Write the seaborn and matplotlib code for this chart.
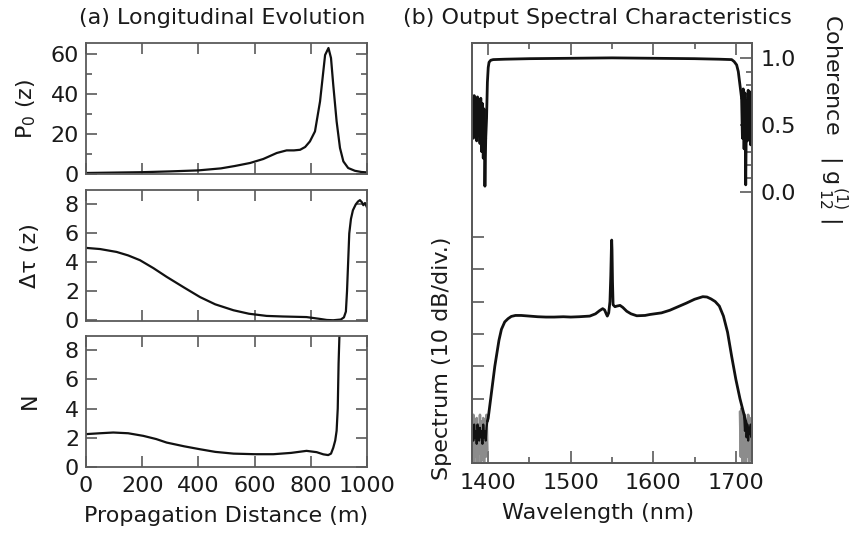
import numpy as np
import pandas as pd
import matplotlib
matplotlib.use('Agg')
import matplotlib.pyplot as plt
import seaborn as sns

# ---- (a) longitudinal evolution ----
z_p0 = [0, 100, 200, 300, 400, 480, 530, 584, 631, 679, 714, 740, 762, 780, 797,
        815, 833, 851, 863, 872, 880, 892, 904, 916, 933, 957, 980, 1000]
p0 = [0.5, 0.7, 0.9, 1.3, 1.8, 2.8, 4.0, 5.5, 7.5, 10.5, 11.8, 11.8, 12.1, 13.5, 16.3,
      21.3, 36.3, 59.5, 63.0, 58.0, 44.6, 26.3, 13.0, 6.3, 3.0, 1.6, 1.0, 0.8]

z_dt = [0, 50, 109, 150, 192, 240, 287, 350, 406, 460, 525, 580, 643, 700, 785, 830,
        857, 880, 907, 918, 925, 929, 933, 937, 943, 950, 960, 968, 975, 982, 987, 993, 1000]
dtau = [5.0, 4.92, 4.72, 4.48, 4.15, 3.6, 3.0, 2.25, 1.6, 1.1, 0.69, 0.45, 0.3, 0.26, 0.22, 0.1,
        0.02, 0.0, 0.05, 0.2, 0.6, 2.0, 4.0, 6.0, 7.0, 7.6, 8.0, 8.2, 8.3, 8.15, 7.95, 8.1, 7.8]

z_n = [0, 50, 97, 150, 204, 250, 287, 350, 406, 460, 525, 600, 667, 730, 785, 821,
       845, 862, 872, 880, 887, 892, 896, 899, 902, 905]
n_sol = [2.24, 2.3, 2.35, 2.3, 2.12, 1.9, 1.66, 1.4, 1.2, 1.02, 0.9, 0.86, 0.86, 0.95, 1.09, 1.0,
         0.85, 0.8, 0.9, 1.3, 1.8, 2.47, 4.0, 7.1, 9.0, 10.5]

# ---- (b) output spectrum (dB) ----
spec_wl = [1399, 1400, 1402, 1404, 1406, 1408, 1410, 1413, 1416, 1420, 1424, 1428, 1433, 1440,
           1450, 1460, 1470, 1480, 1491, 1500, 1510, 1523, 1530, 1535, 1538.7, 1541, 1543,
           1544.3, 1546, 1547.5, 1548.5, 1549.2, 1549.6, 1550.0, 1550.6, 1551.3, 1553.6, 1556,
           1559.7, 1563, 1567.8, 1573, 1580, 1590, 1596, 1610, 1620, 1630, 1640, 1650, 1660,
           1665, 1670, 1675, 1680, 1685, 1690, 1695, 1700, 1705, 1710, 1713]
spec_db = [-57, -56, -52, -48, -44, -40, -36.8, -32, -28.6, -26.3, -25.3, -24.6, -24.3, -24.3,
           -24.5, -24.7, -24.8, -24.8, -24.7, -24.8, -24.7, -24.5, -23.8, -22.8, -22.2, -22.6, -23.8,
           -24.5, -23.5, -20, -12, -4, -1, -4, -14, -21, -21.6, -21.4,
           -21.2, -21.8, -23, -23.8, -24.4, -24.3, -24.0, -23.5, -22.7, -21.6, -20.5, -19.3, -18.5,
           -18.6, -19.2, -20, -21.4, -24.5, -29.5, -37, -44, -50, -55, -58]

noise_wl_left = [1380, 1381, 1382, 1383, 1384, 1385, 1386, 1387, 1388, 1389,
                 1390, 1391, 1392, 1393, 1394, 1395, 1396, 1397, 1398, 1399]
gray_left_db = [-60, -69, -55, -70, -57, -68, -56, -70, -58, -67,
                -55, -70, -57, -69, -56, -70, -58, -68, -55, -66]
black_left_db = [-61, -59, -63, -58, -62, -60, -64, -58, -61, -63,
                 -59, -62, -60, -64, -58, -62, -60, -63, -59, -57]

noise_wl_right = [1705, 1706, 1707, 1708, 1709, 1710, 1711, 1712,
                  1713, 1714, 1715, 1716, 1717, 1718, 1719, 1720]
gray_right_db = [-54, -68, -53, -70, -56, -69, -55, -70,
                 -57, -68, -55, -70, -56, -69, -58, -66]
black_wl_right = [1710, 1711, 1712, 1713, 1714, 1715, 1716, 1717, 1718, 1719, 1720]
black_right_db = [-55, -60, -57, -62, -58, -63, -59, -61, -58, -62, -60]

# ---- (b) coherence |g12(1)| ----
coh_wl_left = [1380, 1381, 1382, 1383, 1384, 1385, 1386, 1387, 1388,
               1389, 1390, 1391, 1392, 1393, 1394, 1395, 1396, 1397]
coh_left = [0.58, 0.70, 0.40, 0.72, 0.45, 0.69, 0.38, 0.71, 0.44,
            0.68, 0.36, 0.70, 0.30, 0.66, 0.25, 0.62, 0.04, 0.40]
coh_wl_mid = [1397, 1398, 1399, 1400, 1401, 1403, 1406, 1420, 1450, 1500, 1550,
              1600, 1650, 1680, 1695, 1698, 1701, 1703, 1705, 1707]
coh_mid = [0.40, 0.55, 0.82, 0.93, 0.97, 0.985, 0.99, 0.993, 0.997, 1.0, 1.003,
           1.0, 0.997, 0.993, 0.99, 0.975, 0.95, 0.90, 0.80, 0.70]
coh_wl_right = [1707, 1708, 1709, 1710, 1711, 1712, 1713, 1714, 1715, 1716, 1717, 1718, 1719, 1720]
coh_right = [0.70, 0.40, 0.77, 0.32, 0.74, 0.05, 0.68, 0.38, 0.76, 0.42, 0.72, 0.35, 0.75, 0.48]

edge = '#5a5a5a'
ink = '#1a1a1a'
sns.set_theme(style='ticks', rc={
    'axes.edgecolor': edge, 'axes.linewidth': 1.3,
    'xtick.color': edge, 'ytick.color': edge,
    'xtick.labelcolor': ink, 'ytick.labelcolor': ink,
    'axes.labelcolor': ink, 'text.color': ink,
})
plt.rcParams['font.family'] = ['DejaVu Sans']
plt.rcParams['mathtext.fontset'] = 'dejavusans'
fs = 16

fig = plt.figure(figsize=(8.6, 5.41), dpi=100)

ax1 = fig.add_axes([0.1, 0.6784, 0.3267, 0.2421])
ax2 = fig.add_axes([0.1, 0.4067, 0.3267, 0.2421])
ax3 = fig.add_axes([0.1, 0.1373, 0.3267, 0.2421])

sns.lineplot(x=z_p0, y=p0, ax=ax1, color='#111111', lw=1.6, estimator=None, sort=False)
sns.lineplot(x=z_dt, y=dtau, ax=ax2, color='#111111', lw=1.6, estimator=None, sort=False)
sns.lineplot(x=z_n, y=n_sol, ax=ax3, color='#111111', lw=1.6, estimator=None, sort=False)

ax1.set_ylim(0, 65.5)
ax1.set_yticks([0, 20, 40, 60])
ax1.set_yticks([10, 30, 50], minor=True)
ax2.set_ylim(-0.05, 9)
ax2.set_yticks([0, 2, 4, 6, 8])
ax3.set_ylim(0, 9)
ax3.set_yticks([0, 2, 4, 6, 8])

for ax in (ax1, ax2, ax3):
    ax.set_xlim(0, 1000)
    ax.set_xticks(range(0, 1001, 200))
    ax.tick_params(which='both', direction='in', top=True, right=True,
                   width=1.2, labelsize=fs, pad=5)
    ax.tick_params(which='major', length=8)
    ax.tick_params(which='minor', length=4)
    ax.set_xlabel('')
for ax in (ax1, ax2):
    ax.set_xticklabels([])

ax1.set_ylabel('P$_0$ (z)', fontsize=fs)
ax2.set_ylabel('Δτ (z)', fontsize=fs)
ax3.set_ylabel('N', fontsize=fs)
ax1.yaxis.set_label_coords(-0.17, 0.5)
ax2.yaxis.set_label_coords(-0.165, 0.5)
ax3.yaxis.set_label_coords(-0.165, 0.5)
ax3.tick_params(axis='x', pad=7)
ax3.set_xlabel('Propagation Distance (m)', fontsize=fs)
ax3.xaxis.set_label_coords(0.5, -0.30)

# right panel
axs = fig.add_axes([0.5485, 0.1436, 0.3263, 0.7775])
axc = axs.twinx()

axs.plot(noise_wl_left, gray_left_db, color='#8c8c8c', lw=1.8, zorder=1)
axs.plot(noise_wl_right, gray_right_db, color='#8c8c8c', lw=1.8, zorder=1)
sns.lineplot(x=noise_wl_left, y=black_left_db, ax=axs, color='#111111', lw=1.5,
             estimator=None, sort=False, zorder=2)
sns.lineplot(x=black_wl_right, y=black_right_db, ax=axs, color='#111111', lw=1.5,
             estimator=None, sort=False, zorder=2)
sns.lineplot(x=spec_wl, y=spec_db, ax=axs, color='#111111', lw=2.0,
             estimator=None, sort=False, zorder=3)

for wl, g in ((coh_wl_left, coh_left), (coh_wl_mid, coh_mid), (coh_wl_right, coh_right)):
    sns.lineplot(x=wl, y=g, ax=axc, color='#111111', lw=2.0, estimator=None, sort=False)

axs.set_xlim(1380, 1720)
axs.set_ylim(-70, 60)
axs.set_xticks([1400, 1500, 1600, 1700])
axs.set_xticks([1450, 1550, 1650], minor=True)
axs.set_yticks(range(-70, 1, 10))
axs.set_yticklabels([])
axs.tick_params(which='both', direction='in', top=True, right=False,
                width=1.2, labelsize=fs, pad=7)
axs.tick_params(which='major', length=8.5)
axs.tick_params(which='minor', length=4)
axs.set_ylabel('Spectrum (10 dB/div.)', fontsize=fs)
axs.yaxis.set_label_coords(-0.07, 0.25)
axs.set_xlabel('Wavelength (nm)', fontsize=fs)
axs.xaxis.set_label_coords(0.45, -0.095)

axc.set_ylim(-2.04, 1.117)
axc.set_yticks([0, 0.5, 1.0])
axc.set_yticklabels(['0.0', '0.5', '1.0'])
axc.set_yticks([0.1, 0.2, 0.3, 0.4, 0.6, 0.7, 0.8, 0.9], minor=True)
axc.tick_params(which='both', direction='in', right=True, left=False,
                width=1.2, labelsize=fs, pad=6)
axc.tick_params(which='major', length=8.5)
axc.tick_params(which='minor', length=4)
axc.set_ylabel('')

fig.text(833 / 860, 1 - 14 / 541, 'Coherence   | g$^{\\,(1)}_{\\,\\,12}$ |', rotation=270,
         ha='center', va='top', fontsize=fs)
fig.text(222 / 860, 1 - 18 / 541, '(a) Longitudinal Evolution', ha='center', va='center', fontsize=fs)
fig.text(597 / 860, 1 - 18 / 541, '(b) Output Spectral Characteristics', ha='center', va='center',
         fontsize=fs)

fig.savefig('out.png', dpi=100)
